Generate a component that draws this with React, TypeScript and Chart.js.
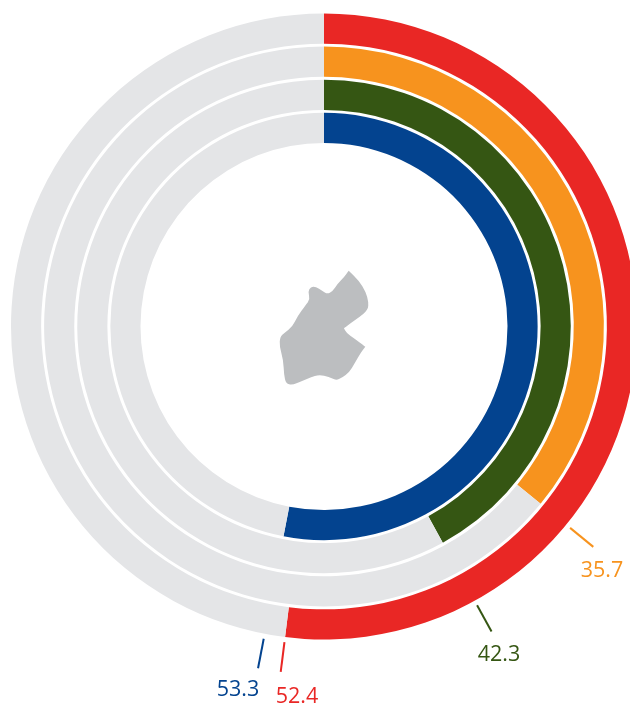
import React, { useEffect, useRef } from "react";
import { Chart, registerables } from "chart.js";

Chart.register(...registerables);

const seriesNames = ["Red", "Orange", "Green", "Blue"];
const seriesValues = [52.4, 35.7, 42.3, 53.3];
const remainders = [48.4, 63.7, 58.4, 47.2];
const seriesColors = ["#E92725", "#F7931E", "#355613", "#03438F"];
const trackColor = "#E4E5E7";

const labelCenters = [
  [297, 697],
  [602, 571],
  [499, 655],
  [238, 690],
];

// Decorative country outline, relative to the hole centre (corners are doubled to stay sharp)
const outline: number[][] = [
  [24.7, -55.8], [24.7, -55.8], [35, -45.8], [41.7, -34.8], [44.5, -24.8], [44, -16.5], [35, -9.2], [27.3, -3.8],
  [20, 1.8], [20, 1.8], [22.7, 6.8], [30, 11.8], [41.3, 20.2], [41.3, 20.2], [36.7, 26.2], [30.7, 36.8], [25, 46],
  [18.3, 51.2], [11.7, 54], [5, 50.2], [-5, 48.2], [-13.3, 50.8], [-23.3, 55], [-31.7, 58.5], [-38, 57],
  [-40, 48.5], [-40.7, 33.5], [-44.5, 20.2], [-44, 10.2], [-39.3, 6.2], [-31.7, 0.2], [-26.7, -9.8], [-18.3, -21.5],
  [-14, -27.2], [-16, -34.8], [-13.3, -39.5], [-8.3, -39.8], [-1.7, -35.5], [3.3, -32.5], [8.3, -34.8], [14, -43.2], [20, -49.2],
];

const decorations = {
  id: "decorations",
  afterDatasetsDraw(chart: any) {
    const { ctx } = chart;
    const first = chart.getDatasetMeta(0).data[0];
    const cx = first.x;
    const cy = first.y;
    ctx.save();
    ctx.fillStyle = "#BCBEC0";
    ctx.beginPath();
    const n = outline.length;
    ctx.moveTo(cx + outline[0][0], cy + outline[0][1]);
    for (let i = 1; i <= n; i++) {
      const p = outline[i % n];
      const q = outline[(i + 1) % n];
      ctx.quadraticCurveTo(cx + p[0], cy + p[1], cx + (p[0] + q[0]) / 2, cy + (p[1] + q[1]) / 2);
    }
    ctx.closePath();
    ctx.fill();

    seriesValues.forEach((value, i) => {
      const angle = chart.getDatasetMeta(i * 2).data[0].endAngle;
      ctx.strokeStyle = seriesColors[i];
      ctx.lineWidth = 2;
      ctx.beginPath();
      ctx.moveTo(cx + 318 * Math.cos(angle), cy + 318 * Math.sin(angle));
      ctx.lineTo(cx + 348 * Math.cos(angle), cy + 348 * Math.sin(angle));
      ctx.stroke();
      ctx.fillStyle = seriesColors[i];
      ctx.font = "21.5px 'Open Sans'";
      ctx.textAlign = "center";
      ctx.textBaseline = "middle";
      ctx.fillText(String(value), labelCenters[i][0], labelCenters[i][1]);
    });
    ctx.restore();
  },
};

export default function App() {
  const ref = useRef<HTMLCanvasElement>(null);
  useEffect(() => {
    document.body.style.margin = "0";
    const datasets: any[] = [];
    seriesValues.forEach((v, i) => {
      datasets.push({
        label: seriesNames[i],
        data: [v, remainders[i]],
        backgroundColor: [seriesColors[i], trackColor],
        borderWidth: 0,
        weight: 30.2,
      });
      if (i < seriesValues.length - 1) {
        datasets.push({
          label: "gap",
          data: [1],
          backgroundColor: ["rgba(0,0,0,0)"],
          borderWidth: 0,
          weight: 3,
        });
      }
    });
    const chart = new Chart(ref.current!, {
      type: "doughnut",
      data: { labels: ["Value", "Rest"], datasets },
      options: {
        responsive: false,
        animation: false,
        cutout: 183.5,
        layout: { padding: { left: 11, top: 13.5, right: 43, bottom: 64.5 } },
        plugins: { legend: { display: false }, tooltip: { enabled: false } },
      },
      plugins: [decorations],
    });
    return () => chart.destroy();
  }, []);
  return (
    <div style={{ position: "fixed", left: 0, top: 0, width: 630, height: 704, overflow: "hidden", background: "#fff" }}>
      <canvas ref={ref} width={680} height={704} style={{ display: "block", width: 680, height: 704 }} />
    </div>
  );
}
